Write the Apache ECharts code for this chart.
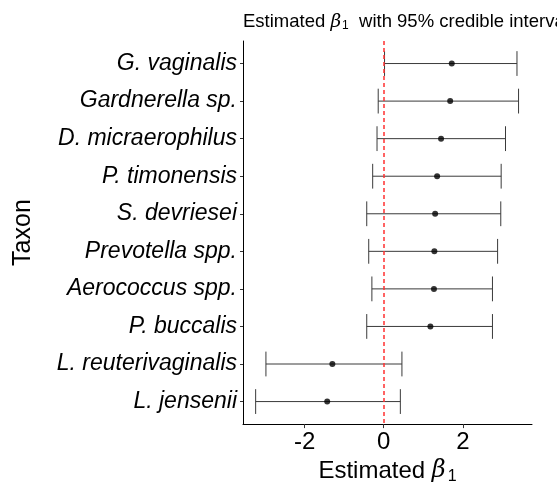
<!DOCTYPE html>
<html>
<head>
<meta charset="utf-8">
<script src="https://cdn.jsdelivr.net/npm/echarts@6/dist/echarts.min.js"></script>
<style>
  html, body { margin: 0; padding: 0; background: #fff; }
  #main { width: 557px; height: 490px; }
</style>
</head>
<body>
<div id="main"></div>
<script>
// taxa, top to bottom
var taxa = ['G. vaginalis', 'Gardnerella sp.', 'D. micraerophilus', 'P. timonensis',
    'S. devriesei', 'Prevotella spp.', 'Aerococcus spp.', 'P. buccalis',
    'L. reuterivaginalis', 'L. jensenii'];
// posterior means and 95% credible bounds
var estimate = [1.72, 1.68, 1.45, 1.35, 1.30, 1.28, 1.27, 1.18, -1.30, -1.43];
var lower = [0.02, -0.14, -0.17, -0.28, -0.43, -0.38, -0.30, -0.43, -2.98, -3.24];
var upper = [3.37, 3.41, 3.08, 2.97, 2.96, 2.88, 2.75, 2.75, 0.46, 0.42];
var xTicks = [-2, 0, 2];
var rows = [1, 2, 3, 4, 5, 6, 7, 8, 9, 10];

var font = '"Liberation Sans", Arial, sans-serif';
var chart = echarts.init(document.getElementById('main'));

var barData = [];
var pointData = [];
taxa.forEach(function (t, i) {
    barData.push([lower[i], upper[i], rows[i]]);
    pointData.push([estimate[i], rows[i]]);
});

function renderBar(params, api) {
    var lo = api.coord([api.value(0), api.value(2)]);
    var hi = api.coord([api.value(1), api.value(2)]);
    var h = api.size([0, 1])[1] * 0.33;
    var style = { stroke: '#3a3a3a', lineWidth: 1 };
    return {
        type: 'group',
        children: [
            { type: 'line', shape: { x1: lo[0], y1: lo[1], x2: hi[0], y2: hi[1] }, style: style },
            { type: 'line', shape: { x1: lo[0], y1: lo[1] - h, x2: lo[0], y2: lo[1] + h }, style: style },
            { type: 'line', shape: { x1: hi[0], y1: hi[1] - h, x2: hi[0], y2: hi[1] + h }, style: style }
        ]
    };
}

var option = {
    backgroundColor: '#fff',
    animation: false,
    title: {
        text: 'Estimated {b|β}{s|1}  with 95% credible intervals',
        left: 243,
        top: 12,
        padding: 0,
        textStyle: {
            fontFamily: font, fontSize: 18.5, fontWeight: 'normal', color: '#000',
            rich: {
                b: { fontFamily: '"DejaVu Serif", serif', fontStyle: 'italic', fontSize: 18.5, color: '#000' },
                s: { fontFamily: font, fontSize: 12, color: '#000', padding: [8, 0, 0, 1] }
            }
        }
    },
    grid: { left: 243, right: 25, top: 41, bottom: 56 },
    xAxis: {
        type: 'value',
        min: -3.56,
        max: 3.75,
        name: 'Estimated {b|β}{s|1}',
        nameLocation: 'middle',
        nameGap: 27,
        nameTextStyle: {
            fontFamily: font, fontSize: 24, color: '#000', verticalAlign: 'top',
            rich: {
                b: { fontFamily: '"DejaVu Serif", serif', fontStyle: 'italic', fontSize: 24, color: '#000' },
                s: { fontFamily: font, fontSize: 16, color: '#000', padding: [12, 0, 0, 2] }
            }
        },
        splitLine: { show: false },
        axisLine: { show: true, onZero: false, lineStyle: { color: '#000', width: 1 } },
        axisTick: { show: true, length: 4, customValues: xTicks, lineStyle: { color: '#333' } },
        axisLabel: { customValues: xTicks, margin: 6, fontFamily: font, fontSize: 24, color: '#000' }
    },
    yAxis: {
        type: 'value',
        inverse: true,
        min: 0.4,
        max: 10.6,
        name: 'Taxon',
        nameLocation: 'middle',
        nameRotate: 90,
        nameGap: 207,
        nameTextStyle: { fontFamily: font, fontSize: 25, color: '#000' },
        splitLine: { show: false },
        axisLine: { show: true, onZero: false, lineStyle: { color: '#000', width: 1 } },
        axisTick: { show: true, length: 3, customValues: rows, lineStyle: { color: '#333' } },
        axisLabel: {
            customValues: rows,
            margin: 6,
            fontFamily: font, fontSize: 23, fontStyle: 'italic', color: '#000',
            formatter: function (v) { return taxa[Math.round(v) - 1]; }
        }
    },
    series: [
        {
            type: 'custom',
            renderItem: renderBar,
            encode: { x: [0, 1], y: 2 },
            data: barData,
            z: 2
        },
        {
            type: 'scatter',
            data: pointData,
            symbolSize: 6,
            itemStyle: { color: '#000' },
            z: 3,
            markLine: {
                silent: true,
                symbol: 'none',
                label: { show: false },
                emphasis: { disabled: true },
                lineStyle: { color: '#ff3030', opacity: 1, type: [4, 3], width: 1.5 },
                data: [{ xAxis: 0 }]
            }
        }
    ]
};
chart.setOption(option);
</script>
</body>
</html>
